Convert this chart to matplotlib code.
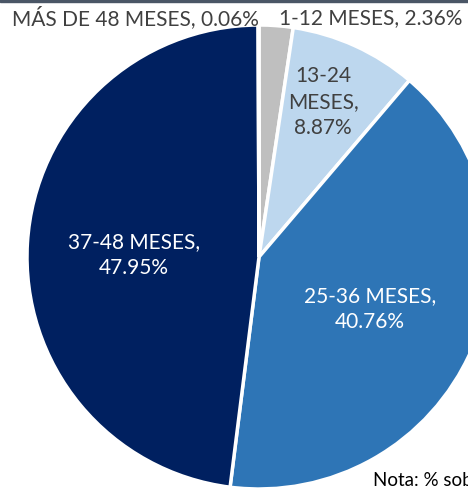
import matplotlib
matplotlib.use("Agg")
import matplotlib.pyplot as plt
from matplotlib.patches import Rectangle

categories = ["1-12 MESES", "13-24 MESES", "25-36 MESES", "37-48 MESES", "MÁS DE 48 MESES"]
values = [2.36, 8.87, 40.76, 47.95, 0.06]
colors = ["#BFBFBF", "#BDD7EE", "#2E75B6", "#002060", "#7F7F7F"]
note = "Nota: % sobre el total"

W, H = 468, 489
fig = plt.figure(figsize=(W / 100, H / 100), dpi=100)
ax = fig.add_axes([0, 0, 1, 1])
ax.set_xlim(0, W)
ax.set_ylim(0, H)
ax.set_aspect("equal")
ax.axis("off")

cx, cy, r = 259, H - 258, 232
ax.pie(values, colors=colors, startangle=90, counterclock=False,
       center=(cx, cy), radius=r, frame=True,
       wedgeprops=dict(edgecolor="white", linewidth=2.5))
ax.set_xlim(0, W)
ax.set_ylim(0, H)
ax.axis("off")

font = "Lato"
dark = "#404040"
fs = 15
ls = 1.35
ax.text(135, H - 18, f"{categories[4]}, {values[4]:.2f}%", ha="center", va="center",
        fontsize=fs, color=dark, family=font)
ax.text(371, H - 18, f"{categories[0]}, {values[0]:.2f}%", ha="center", va="center",
        fontsize=fs, color=dark, family=font)
ax.text(323, H - 102, "13-24\nMESES,\n" + f"{values[1]:.2f}%", ha="center", va="center",
        fontsize=fs, color=dark, family=font, linespacing=ls)
ax.text(370, H - 309, f"{categories[2]},\n{values[2]:.2f}%", ha="center", va="center",
        fontsize=fs, color="white", family=font, linespacing=ls)
ax.text(134, H - 255, f"{categories[3]},\n{values[3]:.2f}%", ha="center", va="center",
        fontsize=fs, color="white", family=font, linespacing=ls)
ax.text(373, H - 481, note, ha="left", va="center", fontsize=13.5, color="black", family=font)

ax.add_patch(Rectangle((0, H - 3), W, 3, color="#4a5666", zorder=10))

fig.savefig("out.png", dpi=100)
